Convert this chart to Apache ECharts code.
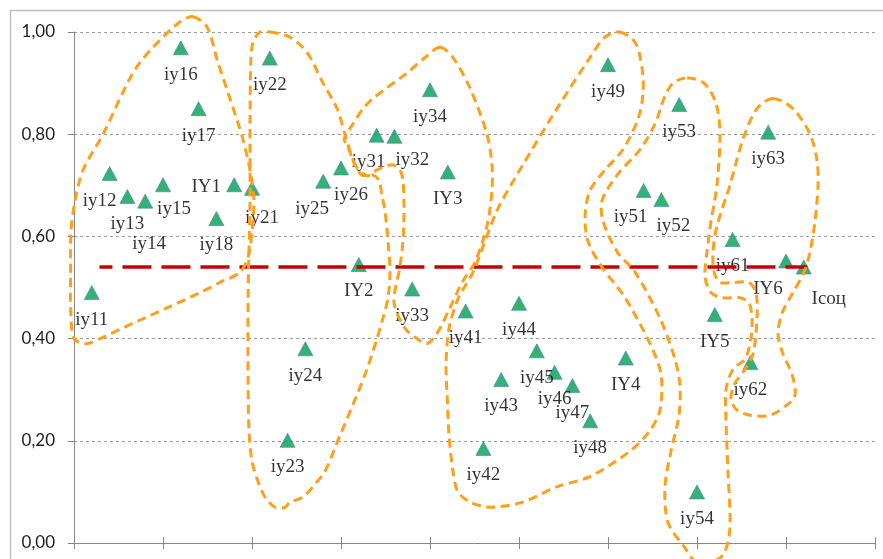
<!DOCTYPE html>
<html><head><meta charset="utf-8">
<script src="https://cdn.jsdelivr.net/npm/echarts@6/dist/echarts.min.js"></script>
<style>html,body{margin:0;padding:0;background:#fff}#c{width:883px;height:559px}</style>
</head><body><div id="c"></div>
<script>
// ---- data ----
const categories = ['iy11','iy12','iy13','iy14','iy15','iy16','iy17','iy18','IY1',
  'iy21','iy22','iy23','iy24','iy25','iy26','IY2',
  'iy31','iy32','iy33','iy34','IY3',
  'iy41','iy42','iy43','iy44','iy45','iy46','iy47','iy48','iy49','IY4',
  'iy51','iy52','iy53','iy54','IY5',
  'iy61','iy62','iy63','IY6','Iсоц'];
const values = [0.490,0.723,0.678,0.669,0.701,0.969,0.850,0.635,0.701,
  0.694,0.949,0.201,0.380,0.708,0.734,0.545,
  0.798,0.796,0.497,0.887,0.726,
  0.454,0.185,0.320,0.469,0.376,0.334,0.308,0.239,0.936,0.362,
  0.690,0.672,0.858,0.100,0.447,
  0.594,0.353,0.804,0.552,0.540];
const yTickValues = [0,0.2,0.4,0.6,0.8,1.0];
const thresholdValue = 0.54;
const thresholdRange = [1.43, 41.2];

// group outlines (data coordinates)
const group1 = [[6.69,1.03],[7.47,1.01],[8.09,0.94],[8.76,0.87],[9.49,0.79],[9.94,0.72],[10.11,0.67],[10.0,0.61],[9.78,0.56],[9.33,0.53],[8.20,0.51],[7.08,0.49],[5.22,0.46],[3.31,0.43],[1.46,0.40],[0.67,0.39],[0,0.40],[-0.19,0.46],[-0.19,0.53],[-0.17,0.61],[0.06,0.67],[0.51,0.73],[1.63,0.80],[3.31,0.92],[4.44,0.97],[5.96,1.02]];
const group2 = [[11.01,1.00],[12.13,0.99],[13.09,0.96],[13.99,0.90],[14.78,0.85],[15.22,0.80],[15.39,0.78],[15.79,0.74],[16.18,0.72],[16.80,0.72],[17.13,0.71],[17.30,0.68],[17.47,0.65],[17.64,0.59],[17.75,0.53],[17.64,0.48],[17.36,0.44],[17.02,0.40],[16.46,0.34],[15.90,0.29],[14.94,0.21],[14.10,0.14],[13.65,0.12],[12.87,0.09],[12.13,0.08],[11.85,0.07],[11.29,0.07],[10.73,0.09],[10.34,0.12],[10.0,0.16],[9.83,0.22],[9.78,0.32],[9.78,0.48],[9.83,0.57],[9.89,0.67],[9.89,0.82],[9.94,0.95],[10.06,0.98],[10.45,1.00]];
const group3 = [[20.56,0.97],[21.29,0.95],[22.25,0.89],[23.20,0.80],[23.48,0.74],[23.48,0.69],[23.20,0.62],[22.53,0.55],[21.80,0.51],[21.12,0.46],[20.39,0.41],[19.83,0.39],[19.27,0.40],[18.60,0.42],[17.98,0.47],[18.31,0.54],[18.48,0.59],[18.54,0.65],[18.48,0.71],[18.31,0.73],[17.87,0.74],[17.02,0.73],[16.63,0.72],[16.35,0.72],[15.79,0.74],[15.34,0.78],[15.17,0.79],[15.67,0.82],[16.24,0.85],[16.80,0.87],[18.71,0.92],[19.72,0.95]];
const group4 = [[30.67,1.00],[31.52,0.98],[31.91,0.93],[31.97,0.88],[31.69,0.83],[30.84,0.77],[29.83,0.73],[28.99,0.69],[28.71,0.64],[28.88,0.59],[29.66,0.54],[30.96,0.48],[32.36,0.39],[32.98,0.33],[32.92,0.26],[32.36,0.22],[31.24,0.18],[28.99,0.13],[27.13,0.11],[25.22,0.08],[23.37,0.07],[22.25,0.08],[21.57,0.10],[21.29,0.14],[21.07,0.21],[20.96,0.29],[20.90,0.35],[21.07,0.42],[21.60,0.48],[22.42,0.53],[23.76,0.65],[25.22,0.74],[27.13,0.85],[28.99,0.95],[29.83,0.99]];
const group5 = [[34.44,0.91],[35.39,0.90],[36.07,0.86],[36.29,0.80],[36.12,0.70],[35.79,0.63],[35.56,0.57],[35.45,0.52],[35.79,0.49],[36.40,0.48],[37.42,0.48],[37.92,0.47],[38.09,0.44],[38.03,0.40],[37.70,0.36],[37.02,0.34],[36.63,0.30],[36.63,0.24],[36.74,0.14],[36.85,0.03],[36.52,-0.02],[35.73,-0.04],[35.0,-0.04],[34.33,-0.01],[33.37,0.04],[33.20,0.11],[33.54,0.18],[33.99,0.25],[34.04,0.31],[33.76,0.36],[32.92,0.44],[31.52,0.53],[30.51,0.57],[29.72,0.63],[29.66,0.67],[30.51,0.72],[31.80,0.77],[32.64,0.82],[33.15,0.87],[33.65,0.90]];
const group6 = [[39.27,0.87],[40.39,0.85],[41.35,0.80],[41.74,0.75],[41.80,0.70],[41.63,0.63],[41.35,0.57],[41.01,0.53],[40.39,0.49],[39.78,0.45],[39.55,0.41],[39.83,0.37],[40.34,0.33],[40.51,0.29],[40.06,0.27],[39.10,0.25],[37.98,0.25],[37.25,0.26],[36.91,0.28],[37.08,0.31],[37.70,0.34],[38.15,0.37],[38.37,0.44],[38.31,0.49],[37.92,0.51],[37.13,0.51],[36.29,0.51],[35.96,0.53],[35.90,0.57],[36.12,0.62],[36.85,0.70],[37.58,0.79],[38.37,0.85]];

// ---- layout config ----
const defaultLabelOffset = [0, 27];
const labelOffsets = {
  'iy12':[-10,27],'iy14':[4,42.5],'iy15':[11,24.5],'IY1':[-28,2.5],'iy21':[10,29.5],
  'iy25':[-11,27.5],'iy26':[10,27.5],'iy31':[-8,27],'iy32':[18,23.5],
  'iy51':[-13,26.5],'iy52':[12,26.5],'IY6':[-18,28.5],'Iсоц':[25,31.5]
};

const groups = [group1, group2, group3, group4, group5, group6];
const chart = echarts.init(document.getElementById('c'), null, {renderer:'canvas'});
const axisGray = '#868686';
const option = {
  animation: false,
  grid: {left: 74, right: 8, top: 32, bottom: 16},
  graphic: [{type:'rect', silent:true, z:-10, shape:{x:10.5, y:10.5, width:900, height:600},
    style:{fill:'none', stroke:'#BFBFBF', lineWidth:1.5}}],
  xAxis: [
    {type:'value', min:0, max:45, interval:5,
     axisLine:{show:true, lineStyle:{color:axisGray, width:1}},
     axisTick:{show:true, length:6, lineStyle:{color:axisGray}},
     axisLabel:{show:false}, splitLine:{show:false}},
    {type:'value', min:0, max:45, interval:5, position:'bottom',
     axisLine:{show:false},
     axisTick:{show:true, inside:true, length:6, lineStyle:{color:axisGray}},
     axisLabel:{show:false}, splitLine:{show:false}}
  ],
  yAxis: {type:'value', min:0, max:1, interval:0.2,
    axisLine:{show:true, lineStyle:{color:axisGray, width:1}},
    axisTick:{show:true, length:6, lineStyle:{color:axisGray}},
    axisLabel:{margin:19, fontFamily:'Lato', fontSize:17, color:'#222',
      formatter: v => yTickValues.some(t => Math.abs(t - v) < 1e-9) ? v.toFixed(2).replace('.', ',') : ''},
    splitLine:{show:true, lineStyle:{color:'#9A9A9A', width:1, type:[3,3]}}},
  series: [
    {type:'scatter', xAxisIndex:0, z:2,
     symbol:'triangle', symbolSize:[15,14],
     itemStyle:{color:'#00A04E', borderColor:'#4A7EBB', borderWidth:0.8},
     emphasis:{disabled:true},
     label:{show:true, position:'inside', formatter:'{b}', color:'#000',
       fontFamily:'"Liberation Serif","Times New Roman",serif', fontSize:19},
     data: categories.map((n, i) => ({name:n, value:[i + 1, values[i]],
       label:{offset: labelOffsets[n] || defaultLabelOffset}}))},
    {type:'line', xAxisIndex:0, z:3, symbol:'none', silent:true,
     lineStyle:{color:'#C80000', width:3.5, type:[29,10], dashOffset:16},
     data: thresholdRange.map(x => [x, thresholdValue])},
    {type:'custom', xAxisIndex:0, z:4, silent:true, clip:false,
     data: groups.map((g, i) => [i]),
     encode:{x:0, y:0},
     renderItem: (params, api) => {
       const pts = groups[params.dataIndex].map(p => api.coord(p));
       return {type:'polygon', shape:{points:pts, smooth:0.3},
         style:{fill:'none', stroke:'#FF9F1A', lineWidth:3, lineDash:[9,5.5]}};
     }}
  ]
};
chart.setOption(option);
</script></body></html>
